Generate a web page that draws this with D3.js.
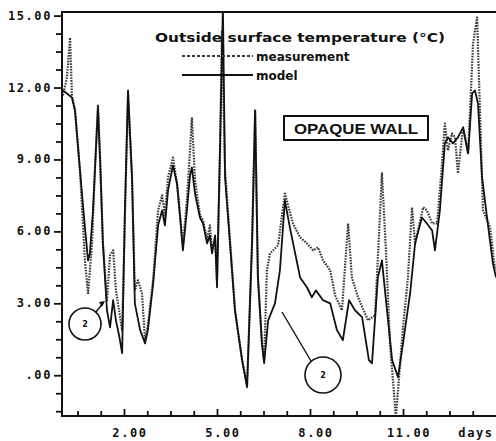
<!DOCTYPE html>
<html>
<head>
<meta charset="utf-8">
<script src="https://cdn.jsdelivr.net/npm/d3@7"></script>
<style>
  body { margin: 0; background: #fff; }
  svg { display: block; }
  .ticklabel { font-family: "DejaVu Sans Mono", monospace; font-weight: bold; font-size: 12px; letter-spacing: 1.6px; fill: #111; }
  .title { font-family: "DejaVu Sans", sans-serif; font-weight: bold; font-size: 13px; fill: #111; }
  .legend { font-family: "DejaVu Sans", sans-serif; font-weight: bold; font-size: 12px; fill: #111; }
  .boxlabel { font-family: "Liberation Sans", Arial, sans-serif; font-weight: bold; font-size: 15px; fill: #111; }
</style>
</head>
<body>
<svg></svg>
<script>
//Chart Data
const measDays = [0.03,0.16,0.26,0.32,0.42,0.58,0.74,0.84,0.97,1.06,1.16,1.23,1.32,1.45,1.55,1.65,1.74,1.84,1.94,2.03,2.13,2.26,2.35,2.45,2.58,2.68,2.77,2.94,3.10,3.23,3.32,3.42,3.58,3.71,3.81,3.90,4.03,4.13,4.19,4.29,4.45,4.55,4.68,4.77,4.84,4.94,5.00,5.10,5.16,5.26,5.58,5.81,5.97,6.13,6.23,6.32,6.45,6.52,6.61,6.71,6.97,7.19,7.45,7.68,7.90,8.10,8.26,8.42,8.65,8.81,9.03,9.23,9.35,9.55,9.87,10.10,10.32,10.45,10.58,10.77,11.00,11.16,11.29,11.39,11.52,11.65,11.77,11.94,12.10,12.26,12.35,12.45,12.58,12.68,12.77,12.94,13.10,13.26,13.39,13.45,13.58,13.81,13.97];
const measTemp = [11.67,12.42,14.08,11.67,11.04,8.54,4.79,3.42,5.5,8.54,11.25,8.96,5.5,3.13,5.0,5.21,3.54,2.71,1.88,6.67,11.67,8.13,3.54,3.96,3.42,1.46,2.08,3.96,6.88,7.5,6.67,8.25,9.08,8.0,6.67,5.42,7.29,9.38,10.75,8.13,6.67,6.46,5.63,6.25,5.21,5.63,3.96,9.38,14.38,8.54,2.71,0.63,-0.42,5.5,11.04,4.08,1.33,0.63,4.38,5.08,5.42,7.58,6.33,5.75,5.5,5.21,5.33,4.79,4.38,3.33,2.71,6.33,4.08,3.25,2.29,2.5,8.42,5.21,1.33,-1.75,2.0,4.08,7.0,5.5,6.25,7.0,6.88,6.33,6.33,8.83,10.5,9.38,10.08,9.92,8.42,10.33,9.25,13.83,14.92,12.42,6.88,6.17,4.38];

const modelDays = [0.03,0.16,0.32,0.42,0.58,0.74,0.84,0.90,1.00,1.16,1.23,1.32,1.45,1.55,1.65,1.74,1.84,1.94,2.03,2.13,2.26,2.35,2.52,2.68,2.77,2.94,3.10,3.23,3.32,3.42,3.58,3.71,3.81,3.90,4.03,4.13,4.19,4.29,4.45,4.55,4.68,4.77,4.84,4.94,5.00,5.10,5.19,5.26,5.58,5.81,5.97,6.13,6.23,6.32,6.45,6.52,6.65,6.87,7.03,7.19,7.35,7.68,7.90,8.06,8.19,8.42,8.65,8.87,9.06,9.26,9.45,9.68,9.90,10.00,10.19,10.32,10.45,10.65,10.84,11.00,11.23,11.39,11.61,11.77,11.94,12.03,12.19,12.35,12.45,12.61,12.77,12.94,13.10,13.23,13.32,13.42,13.55,13.71,13.90,14.00];
const modelTemp = [11.88,11.75,11.58,11.04,8.54,6.17,4.79,5.08,6.88,11.17,8.96,5.5,2.71,2.0,3.13,2.29,1.67,0.92,6.88,11.88,8.25,3.0,1.88,1.33,1.88,3.83,6.25,6.88,6.25,7.71,8.75,8.0,6.58,5.21,6.88,8.33,8.67,7.58,6.58,6.33,5.5,5.83,5.08,5.83,3.67,9.67,15.42,8.25,2.71,0.63,-0.5,5.5,11.04,4.08,1.33,0.5,2.29,3.0,4.38,7.29,6.17,4.08,3.67,3.25,3.54,3.13,3.0,1.88,1.46,3.13,2.71,2.42,0.63,0.5,4.08,4.79,3.13,0.63,-0.08,1.33,3.42,5.5,6.58,6.33,6.04,5.21,6.88,9.67,9.92,9.67,9.92,10.33,9.25,11.75,11.88,11.33,8.25,6.58,4.67,4.08];

//Tick Labels
const yTicks = [0, 3, 6, 9, 12, 15];
const yTickLabels = [".00", "3.00", "6.00", "9.00", "12.00", "15.00"];
const xTicks = [2, 5, 8, 11];
const xTickLabels = ["2.00", "5.00", "8.00", "11.00"];

const series = [
  { name: "measurement", days: measDays, temp: measTemp },
  { name: "model", days: modelDays, temp: modelTemp }
];

function drawChart(){
  const w = 496;
  const h = 441;
  const left = 62;
  const right = 496;
  const top = 12;
  const bottom = 416;

  //Scale Setup
  const xScale = d3.scaleLinear()
                   .domain([0, 14])
                   .range([left, right]);
  const yScale = d3.scaleLinear()
                   .domain([-1.7, 15.15])
                   .range([bottom, top]);

  //Chart Setup
  const chart = d3.select("svg")
                  .attr("width", w)
                  .attr("height", h);

  chart.append("clipPath")
       .attr("id", "plotclip")
       .append("rect")
       .attr("x", left)
       .attr("y", top)
       .attr("width", right - left)
       .attr("height", bottom - top);

  //Lines
  const line = d3.line()
                 .x((d) => xScale(d[0]))
                 .y((d) => yScale(d[1]));

  const plot = chart.append("g").attr("clip-path", "url(#plotclip)");

  series.forEach((s) => {
    const pts = s.days.map((d, i) => [d, s.temp[i]]);
    plot.append("path")
        .datum(pts)
        .attr("fill", "none")
        .attr("stroke", s.name === "model" ? "#111" : "#3a3a3a")
        .attr("stroke-width", s.name === "model" ? 1.8 : 2.2)
        .attr("stroke-dasharray", s.name === "model" ? null : "1.6,1.2")
        .attr("stroke-linejoin", "round")
        .attr("d", line);
  });

  //Axis Setup
  const yMinor = d3.range(-1.5, 15.01, 0.75);
  const yAxis = d3.axisLeft(yScale)
                  .tickValues(yMinor)
                  .tickSize(6)
                  .tickFormat("");
  chart.append("g")
       .attr("id", "y-axis")
       .attr("transform", "translate(" + left + ", 0)")
       .call(yAxis)
       .call((g) => g.select(".domain").remove())
       .call((g) => g.selectAll("line").attr("stroke", "#111").attr("stroke-width", 1.8))
       .call((g) => g.selectAll(".tick")
                     .filter((d) => yTicks.includes(d))
                     .select("line").attr("x2", -8));

  const xMinor = d3.range(0.5, 14, 0.75);
  const xAxis = d3.axisBottom(xScale)
                  .tickValues(xMinor)
                  .tickSize(-5)
                  .tickFormat("");
  chart.append("g")
       .attr("id", "x-axis")
       .attr("transform", "translate(0, " + bottom + ")")
       .call(xAxis)
       .call((g) => g.select(".domain").remove())
       .call((g) => g.selectAll("line").attr("stroke", "#111").attr("stroke-width", 1.8))
       .call((g) => g.selectAll(".tick")
                     .filter((d) => xTicks.some((t) => Math.abs(t - d) < 1e-6))
                     .select("line").attr("y2", -7));

  //Frame
  chart.append("path")
       .attr("d", "M" + right + "," + top + "H" + left + "V" + bottom + "H" + right)
       .attr("fill", "none")
       .attr("stroke", "#111")
       .attr("stroke-width", 2);

  //Tick Labels
  chart.selectAll(".ylabel")
       .data(yTicks)
       .enter()
       .append("text")
       .classed("ticklabel", true)
       .attr("x", left - 10)
       .attr("y", (d) => yScale(d) + 4)
       .attr("text-anchor", "end")
       .text((d, i) => yTickLabels[i]);

  chart.selectAll(".xlabel")
       .data(xTicks)
       .enter()
       .append("text")
       .classed("ticklabel", true)
       .attr("x", (d) => xScale(d) + 6)
       .attr("y", 437)
       .attr("text-anchor", "middle")
       .text((d, i) => xTickLabels[i]);

  chart.append("text")
       .classed("ticklabel", true)
       .attr("x", 476)
       .attr("y", 437)
       .attr("text-anchor", "middle")
       .text("days");

  //Title and Legend
  chart.append("text")
       .classed("title", true)
       .attr("x", 155)
       .attr("y", 42)
       .attr("textLength", 290)
       .attr("lengthAdjust", "spacingAndGlyphs")
       .text("Outside surface temperature (\u00B0C)");

  const legend = chart.append("g");
  series.forEach((s, i) => {
    const ly = 56 + i * 19;
    legend.append("line")
          .attr("x1", 182)
          .attr("x2", 253)
          .attr("y1", ly)
          .attr("y2", ly)
          .attr("stroke", s.name === "model" ? "#111" : "#3a3a3a")
          .attr("stroke-width", 2)
          .attr("stroke-dasharray", s.name === "model" ? null : "3,2");
    legend.append("text")
          .classed("legend", true)
          .attr("x", 256)
          .attr("y", ly + 5)
          .text(s.name);
  });

  //OPAQUE WALL box
  chart.append("rect")
       .attr("x", 284)
       .attr("y", 116)
       .attr("width", 144)
       .attr("height", 24)
       .attr("fill", "#fff")
       .attr("stroke", "#111")
       .attr("stroke-width", 2);
  chart.append("text")
       .classed("boxlabel", true)
       .attr("x", 356)
       .attr("y", 134)
       .attr("text-anchor", "middle")
       .attr("textLength", 124)
       .attr("lengthAdjust", "spacingAndGlyphs")
       .text("OPAQUE WALL");

  //Circled annotations
  const notes = [
    { cx: 85, cy: 324, r: 16, x1: 96, y1: 312, x2: 103, y2: 303 },
    { cx: 323, cy: 375, r: 18, x1: 311, y1: 361, x2: 282, y2: 312 }
  ];
  notes.forEach((n) => {
    chart.append("circle")
         .attr("cx", n.cx)
         .attr("cy", n.cy)
         .attr("r", n.r)
         .attr("fill", "none")
         .attr("stroke", "#111")
         .attr("stroke-width", 1.6);
    chart.append("line")
         .attr("x1", n.x1).attr("y1", n.y1)
         .attr("x2", n.x2).attr("y2", n.y2)
         .attr("stroke", "#111")
         .attr("stroke-width", 1.4);
    chart.append("text")
         .attr("x", n.cx)
         .attr("y", n.cy + 3)
         .attr("text-anchor", "middle")
         .attr("font-family", "DejaVu Sans, sans-serif")
         .attr("font-weight", "bold")
         .attr("font-size", 8)
         .attr("fill", "#111")
         .text("2");
  });
  //small arrow head for the first note
  chart.append("path")
       .attr("d", "M" + 99 + "," + 302 + "L" + 105 + "," + 301 + "L" + 102 + "," + 307 + "Z")
       .attr("fill", "#111");
};
drawChart();
</script>
</body>
</html>
